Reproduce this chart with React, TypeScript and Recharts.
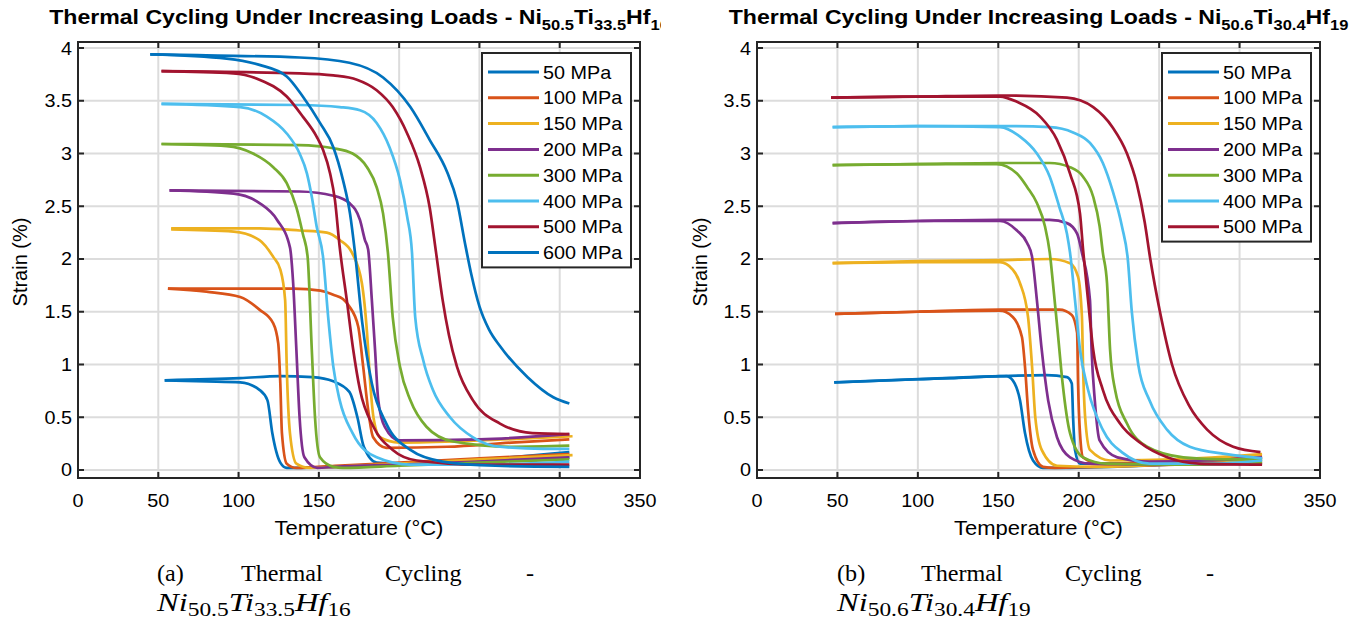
import React from 'react';
import { LineChart, Line, XAxis, YAxis, CartesianGrid, ReferenceArea } from 'recharts';

// [temperature °C, strain %]
type Pt = [number, number];

const tempTicks = [0, 50, 100, 150, 200, 250, 300, 350];
const strainTicks = [0, 0.5, 1, 1.5, 2, 2.5, 3, 3.5, 4];

const loadsA = ['50 MPa', '100 MPa', '150 MPa', '200 MPa', '300 MPa', '400 MPa', '500 MPa', '600 MPa'];
const loadsB = ['50 MPa', '100 MPa', '150 MPa', '200 MPa', '300 MPa', '400 MPa', '500 MPa'];
const loadColors = ['#0072BD', '#D95319', '#EDB120', '#7E2F8E', '#77AC30', '#4DBEEE', '#A2142F', '#0072BD'];

// Ni50.5Ti33.5Hf16 - cooling runs from hot to cold, heating from cold to hot
const a50Cool: Pt[] = [[306, 0.12], [250, 0.09], [200, 0.06], [160, 0.03], [135, 0.02], [130, 0.02], [126, 0.07], [121, 0.35], [118, 0.66], [113, 0.76], [101, 0.83], [80, 0.84], [54, 0.85]];
const a50Heat: Pt[] = [[54, 0.85], [101, 0.87], [126, 0.89], [146, 0.88], [159, 0.84], [169, 0.74], [174, 0.5], [178, 0.22], [186, 0.07], [200, 0.06], [250, 0.1], [306, 0.17]];
const a100Cool: Pt[] = [[306, 0.15], [250, 0.11], [200, 0.07], [160, 0.04], [136, 0.02], [130, 0.06], [127, 0.35], [126, 0.82], [124.7, 1.2], [121.6, 1.39], [113, 1.52], [101, 1.64], [80, 1.69], [56, 1.72]];
const a100Heat: Pt[] = [[56, 1.72], [101, 1.72], [134, 1.72], [151, 1.7], [159, 1.66], [165, 1.62], [169, 1.55], [174.5, 1.36], [177.6, 0.98], [180.7, 0.57], [183.8, 0.31], [192, 0.21], [230, 0.22], [270, 0.26], [306, 0.29]];
const a150Cool: Pt[] = [[308, 0.14], [250, 0.1], [200, 0.06], [160, 0.03], [144, 0.02], [136, 0.06], [132, 0.35], [130, 0.98], [129, 1.61], [126, 1.9], [121.6, 2.02], [113, 2.18], [97, 2.26], [58, 2.28]];
const a150Heat: Pt[] = [[58, 2.29], [113, 2.29], [138, 2.27], [155, 2.25], [163, 2.18], [170.6, 2.06], [176.8, 1.77], [180, 1.3], [182, 0.82], [184, 0.5], [188, 0.31], [200, 0.26], [250, 0.28], [308, 0.32]];
const a200Cool: Pt[] = [[306, 0.12], [250, 0.08], [200, 0.05], [160, 0.03], [149, 0.02], [141, 0.12], [138, 0.5], [136, 1.14], [134, 1.77], [132, 2.11], [124, 2.37], [113, 2.53], [97, 2.62], [57, 2.65]];
const a200Heat: Pt[] = [[57, 2.65], [138, 2.64], [159, 2.6], [169, 2.53], [175.6, 2.37], [178.7, 2.18], [180.7, 2.09], [183, 1.61], [185, 1.14], [187, 0.66], [191, 0.41], [200, 0.28], [250, 0.29], [306, 0.34]];
const a300Cool: Pt[] = [[306, 0.1], [250, 0.07], [200, 0.04], [165, 0.02], [159, 0.03], [150.7, 0.12], [147.6, 0.5], [145.6, 1.14], [143, 2.02], [140, 2.24], [136, 2.49], [130, 2.72], [121.6, 2.87], [109, 3.0], [92.6, 3.07], [52, 3.09]];
const a300Heat: Pt[] = [[52, 3.09], [138, 3.08], [159, 3.05], [171, 3.0], [180, 2.87], [186, 2.68], [190, 2.43], [193, 2.06], [196, 1.45], [200.5, 0.98], [207, 0.66], [217, 0.41], [233.6, 0.27], [270, 0.22], [306, 0.23]];
const a400Cool: Pt[] = [[306, 0.08], [250, 0.05], [207, 0.05], [186, 0.12], [171, 0.35], [163, 0.66], [159, 0.98], [155.8, 1.45], [152.6, 2.02], [148.6, 2.31], [145.6, 2.59], [142.6, 2.81], [138, 3.0], [130, 3.19], [117.6, 3.35], [101, 3.44], [52, 3.47]];
const a400Heat: Pt[] = [[52, 3.47], [138, 3.46], [163, 3.44], [175.6, 3.41], [186, 3.29], [194, 3.06], [200.5, 2.75], [205, 2.4], [208, 2.06], [210, 1.45], [215, 1.04], [221, 0.76], [231.7, 0.5], [246, 0.31], [262.8, 0.22], [290, 0.2], [306, 0.2]];
const a500Cool: Pt[] = [[306, 0.05], [250, 0.05], [211, 0.09], [196, 0.19], [184, 0.41], [175.6, 0.76], [171.4, 1.14], [167.4, 1.61], [163, 2.11], [160, 2.56], [157, 2.81], [152.7, 3.03], [148.6, 3.16], [140, 3.35], [130, 3.54], [113, 3.7], [96.6, 3.76], [52, 3.78]];
const a500Heat: Pt[] = [[52, 3.78], [138, 3.76], [159, 3.74], [173.7, 3.7], [186, 3.6], [196, 3.44], [205, 3.19], [213, 2.87], [219, 2.49], [223, 2.06], [227, 1.62], [231, 1.28], [236, 0.98], [246, 0.66], [262.8, 0.44], [283, 0.35], [306, 0.34]];
const a600Cool: Pt[] = [[306, 0.03], [260, 0.04], [227, 0.08], [207, 0.19], [192, 0.44], [183, 0.82], [177, 1.4], [172.5, 2.06], [169.4, 2.43], [165, 2.75], [159, 3.06], [150.7, 3.29], [140, 3.54], [130, 3.73], [113, 3.84], [92.6, 3.9], [45, 3.94]];
const a600Heat: Pt[] = [[45, 3.94], [80, 3.93], [138, 3.91], [169, 3.86], [190, 3.72], [207, 3.44], [219, 3.13], [230, 2.82], [236, 2.55], [241, 2.15], [245, 1.85], [250, 1.55], [256, 1.33], [263, 1.17], [280, 0.88], [296, 0.69], [306, 0.63]];

// Ni50.6Ti30.4Hf19
const b50Cool: Pt[] = [[314, 0.1], [270, 0.06], [220, 0.03], [190, 0.02], [177.8, 0.02], [171.6, 0.09], [166.6, 0.35], [163.5, 0.66], [159, 0.85], [155, 0.89], [120, 0.87], [80, 0.85], [48, 0.83]];
const b50Heat: Pt[] = [[48, 0.83], [100, 0.86], [151, 0.89], [180, 0.9], [192.7, 0.88], [195.7, 0.82], [196.5, 0.5], [197.7, 0.19], [200.8, 0.06], [230, 0.06], [270, 0.08], [314, 0.12]];
const b100Cool: Pt[] = [[314, 0.08], [260, 0.05], [210, 0.03], [185, 0.02], [177.8, 0.03], [171.6, 0.19], [168.5, 0.57], [166.6, 0.98], [164.7, 1.26], [159, 1.45], [151, 1.51], [100, 1.5], [48.5, 1.48]];
const b100Heat: Pt[] = [[48.5, 1.48], [100, 1.5], [151, 1.52], [188, 1.52], [195.7, 1.47], [199, 1.3], [199.6, 0.82], [200.8, 0.35], [202.7, 0.12], [213, 0.06], [260, 0.08], [314, 0.13]];
const b150Cool: Pt[] = [[314, 0.1], [260, 0.06], [210, 0.03], [186.5, 0.04], [177, 0.19], [173, 0.5], [171, 0.98], [168.5, 1.45], [163.5, 1.77], [159, 1.9], [151, 1.97], [100, 1.97], [47, 1.96]];
const b150Heat: Pt[] = [[47, 1.96], [100, 1.98], [151, 1.99], [182, 2.0], [194.6, 1.96], [199.6, 1.83], [202, 1.45], [202.7, 0.98], [204, 0.5], [207, 0.19], [219.5, 0.09], [260, 0.1], [314, 0.15]];
const b200Cool: Pt[] = [[314, 0.06], [260, 0.05], [207, 0.06], [194.6, 0.12], [186.5, 0.31], [181, 0.66], [177, 1.14], [174, 1.61], [171, 2.02], [168, 2.15], [161.6, 2.27], [151, 2.36], [100, 2.36], [47, 2.34]];
const b200Heat: Pt[] = [[47, 2.34], [100, 2.36], [151, 2.37], [182, 2.37], [192.7, 2.34], [199, 2.24], [202, 2.06], [207, 1.61], [208, 1.14], [210, 0.66], [213, 0.28], [224, 0.12], [244, 0.08], [280, 0.09], [314, 0.12]];
const b300Cool: Pt[] = [[314, 0.07], [260, 0.05], [217.6, 0.06], [202.7, 0.12], [194.6, 0.35], [190, 0.82], [187, 1.3], [184, 1.77], [182, 2.06], [179, 2.31], [174, 2.53], [168, 2.68], [161.6, 2.81], [149, 2.9], [100, 2.9], [47, 2.89]];
const b300Heat: Pt[] = [[47, 2.89], [100, 2.9], [151, 2.91], [182, 2.91], [194.6, 2.87], [202.7, 2.78], [209, 2.59], [213, 2.31], [215, 2.06], [217.6, 1.77], [219.5, 1.14], [222.6, 0.76], [230, 0.44], [242.5, 0.22], [265, 0.12], [290, 0.1], [314, 0.1]];
const b400Cool: Pt[] = [[314, 0.09], [280, 0.06], [244, 0.06], [227.6, 0.16], [215, 0.38], [205.8, 0.76], [200.8, 1.14], [197.7, 1.61], [194.6, 2.06], [192.7, 2.24], [188, 2.49], [182, 2.78], [174, 3.0], [163.5, 3.16], [151, 3.25], [100, 3.26], [47, 3.25]];
const b400Heat: Pt[] = [[47, 3.25], [100, 3.26], [151, 3.26], [182, 3.25], [196.5, 3.2], [207, 3.1], [215, 2.91], [221, 2.65], [227, 2.3], [230.5, 2.0], [233, 1.5], [237, 1.0], [244, 0.66], [255, 0.38], [269, 0.22], [292, 0.15], [314, 0.11]];
const b500Cool: Pt[] = [[314, 0.05], [275, 0.06], [255, 0.12], [238, 0.26], [225.7, 0.44], [215, 0.76], [209, 1.14], [205.8, 1.61], [202.7, 2.09], [200.8, 2.43], [194.6, 2.81], [186.5, 3.13], [176, 3.35], [161.6, 3.49], [151, 3.54], [100, 3.54], [46, 3.53]];
const b500Heat: Pt[] = [[46, 3.53], [100, 3.54], [151, 3.55], [192.7, 3.53], [209, 3.44], [221, 3.25], [230, 3.0], [236, 2.72], [241, 2.35], [244.5, 2.0], [250.5, 1.5], [258, 1.0], [269, 0.6], [280, 0.38], [296, 0.22], [313, 0.17]];

const loopsA: [Pt[], Pt[]][] = [
  [a50Cool, a50Heat], [a100Cool, a100Heat], [a150Cool, a150Heat], [a200Cool, a200Heat],
  [a300Cool, a300Heat], [a400Cool, a400Heat], [a500Cool, a500Heat], [a600Cool, a600Heat],
];
const loopsB: [Pt[], Pt[]][] = [
  [b50Cool, b50Heat], [b100Cool, b100Heat], [b150Cool, b150Heat], [b200Cool, b200Heat],
  [b300Cool, b300Heat], [b400Cool, b400Heat], [b500Cool, b500Heat],
];

const SANS = '"Liberation Sans", Arial, Helvetica, sans-serif';
const SERIF = '"Liberation Serif", "Times New Roman", serif';
const AXIS = '#262626';
const SX = 1.1;

const W = 680;
const H = 560;
const PLOT_TOP = 42;
const PLOT_BOTTOM = 478;
const PLOT_RIGHT = 640;
const TICK = 6;
const Y_MIN = -0.076;
const Y_MAX = 4.057;

const toRows = (pts: Pt[]) => pts.map(([t, s]) => ({ t, s }));

function SText({ x, y, size, anchor = 'start', weight = 'normal', family = SANS, sx = SX, children }: any) {
  return (
    <text
      transform={`translate(${x} ${y}) scale(${sx} 1)`}
      fontSize={size}
      textAnchor={anchor}
      fontWeight={weight}
      fontFamily={family}
      fill="#000"
    >
      {children}
    </text>
  );
}

interface PanelProps {
  left: number;
  plotLeft: number;
  clip: number;
  loops: [Pt[], Pt[]][];
  labels: string[];
  formula: [string, string][];
  tag: string;
}

function Panel({ left, plotLeft, clip, loops, labels, formula, tag }: PanelProps) {
  const xTick = (p: any) => {
    const v = p.payload.value;
    const edge = v === 0 || v === 350;
    return (
      <g>
        {!edge && <line x1={p.x} x2={p.x} y1={PLOT_BOTTOM} y2={PLOT_BOTTOM - TICK} stroke={AXIS} strokeWidth={2} />}
        {!edge && <line x1={p.x} x2={p.x} y1={PLOT_TOP} y2={PLOT_TOP + TICK} stroke={AXIS} strokeWidth={2} />}
        <SText x={p.x} y={PLOT_BOTTOM + 29} size={18} anchor="middle">{String(v)}</SText>
      </g>
    );
  };
  const yTick = (p: any) => {
    const v = p.payload.value;
    return (
      <g>
        <line x1={plotLeft} x2={plotLeft + TICK} y1={p.y} y2={p.y} stroke={AXIS} strokeWidth={2} />
        <line x1={PLOT_RIGHT} x2={PLOT_RIGHT - TICK} y1={p.y} y2={p.y} stroke={AXIS} strokeWidth={2} />
        <SText x={plotLeft - 6} y={p.y + 6.5} size={18} anchor="end">{String(v)}</SText>
      </g>
    );
  };

  const midX = (plotLeft + PLOT_RIGHT) / 2;
  const legRight = PLOT_RIGHT - 9;
  const legLeft = legRight - 149;
  const legTop = 53;

  return (
    <div style={{ position: 'absolute', left, top: 0, width: clip, height: 628, overflow: 'hidden' }}>
      <LineChart width={W} height={H} margin={{ top: PLOT_TOP, right: W - PLOT_RIGHT, bottom: 0, left: 0 }}>
        <CartesianGrid stroke="#dcdcdc" strokeWidth={2} />
        <XAxis
          dataKey="t"
          type="number"
          domain={[0, 350]}
          ticks={tempTicks}
          interval={0}
          allowDataOverflow
          height={H - PLOT_BOTTOM}
          axisLine={false}
          tickLine={false}
          tick={xTick}
        />
        <YAxis
          type="number"
          domain={[Y_MIN, Y_MAX]}
          ticks={strainTicks}
          interval={0}
          allowDataOverflow
          width={plotLeft}
          axisLine={false}
          tickLine={false}
          tick={yTick}
        />
        {loops.flatMap(([cool, heat], i) => [
          <Line key={`c${i}`} data={toRows(cool)} dataKey="s" type="monotone" dot={false} activeDot={false}
            stroke={loadColors[i]} strokeWidth={2.7} isAnimationActive={false} />,
          <Line key={`h${i}`} data={toRows(heat)} dataKey="s" type="monotone" dot={false} activeDot={false}
            stroke={loadColors[i]} strokeWidth={2.7} isAnimationActive={false} />,
        ])}
        <ReferenceArea x1={0} x2={350} y1={Y_MIN} y2={Y_MAX} fill="none" fillOpacity={0} stroke={AXIS} strokeWidth={2} strokeOpacity={1} />
      </LineChart>

      <svg width={W} height={628} style={{ position: 'absolute', left: 0, top: 0, pointerEvents: 'none' }}>
        <SText x={midX} y={24} size={21} weight="bold" anchor="middle">
          {'Thermal Cycling Under Increasing Loads - '}
          {formula.map(([el, sub], k) => (
            <React.Fragment key={k}>
              <tspan dy={k === 0 ? 0 : -6}>{el}</tspan>
              <tspan dy={6} fontSize={15}>{sub}</tspan>
            </React.Fragment>
          ))}
        </SText>

        <text transform={`translate(27 ${(PLOT_TOP + PLOT_BOTTOM) / 2 + 2}) rotate(-90)`} fontSize={20}
          fontFamily={SANS} textAnchor="middle" fill="#000">Strain (%)</text>
        <SText x={midX} y={535} size={20} anchor="middle">Temperature (°C)</SText>

        <rect x={legLeft} y={legTop} width={149} height={8 + labels.length * 25.8} fill="#fff" stroke={AXIS} strokeWidth={2} />
        {labels.map((lab, i) => {
          const y = legTop + 19 + i * 25.8;
          return (
            <g key={lab}>
              <line x1={legLeft + 6} x2={legLeft + 57} y1={y} y2={y} stroke={loadColors[i]} strokeWidth={3} />
              <SText x={legLeft + 61} y={y + 6.5} size={18}>{lab}</SText>
            </g>
          );
        })}

        <SText x={157} y={581} size={23} family={SERIF} sx={1.05}>({tag})</SText>
        <SText x={241} y={581} size={23} family={SERIF} sx={1.05}>Thermal</SText>
        <SText x={385} y={581} size={23} family={SERIF} sx={1.05}>Cycling</SText>
        <SText x={526} y={581} size={23} family={SERIF} sx={1.05}>-</SText>
        <SText x={157} y={611} size={25} family={SERIF} sx={1.3}>
          {formula.map(([el, sub], k) => (
            <React.Fragment key={k}>
              <tspan dy={k === 0 ? 0 : -5} fontStyle="italic">{el}</tspan>
              <tspan dy={5} fontSize={18}>{sub}</tspan>
            </React.Fragment>
          ))}
        </SText>
      </svg>
    </div>
  );
}

export default function App() {
  return (
    <div style={{ position: 'absolute', left: 0, top: 0, width: 1360, height: 628, background: '#fff', overflow: 'hidden' }}>
      <Panel left={0} plotLeft={78} clip={661} loops={loopsA} labels={loadsA}
        formula={[['Ni', '50.5'], ['Ti', '33.5'], ['Hf', '16']]} tag="a" />
      <Panel left={680} plotLeft={77} clip={680} loops={loopsB} labels={loadsB}
        formula={[['Ni', '50.6'], ['Ti', '30.4'], ['Hf', '19']]} tag="b" />
    </div>
  );
}
